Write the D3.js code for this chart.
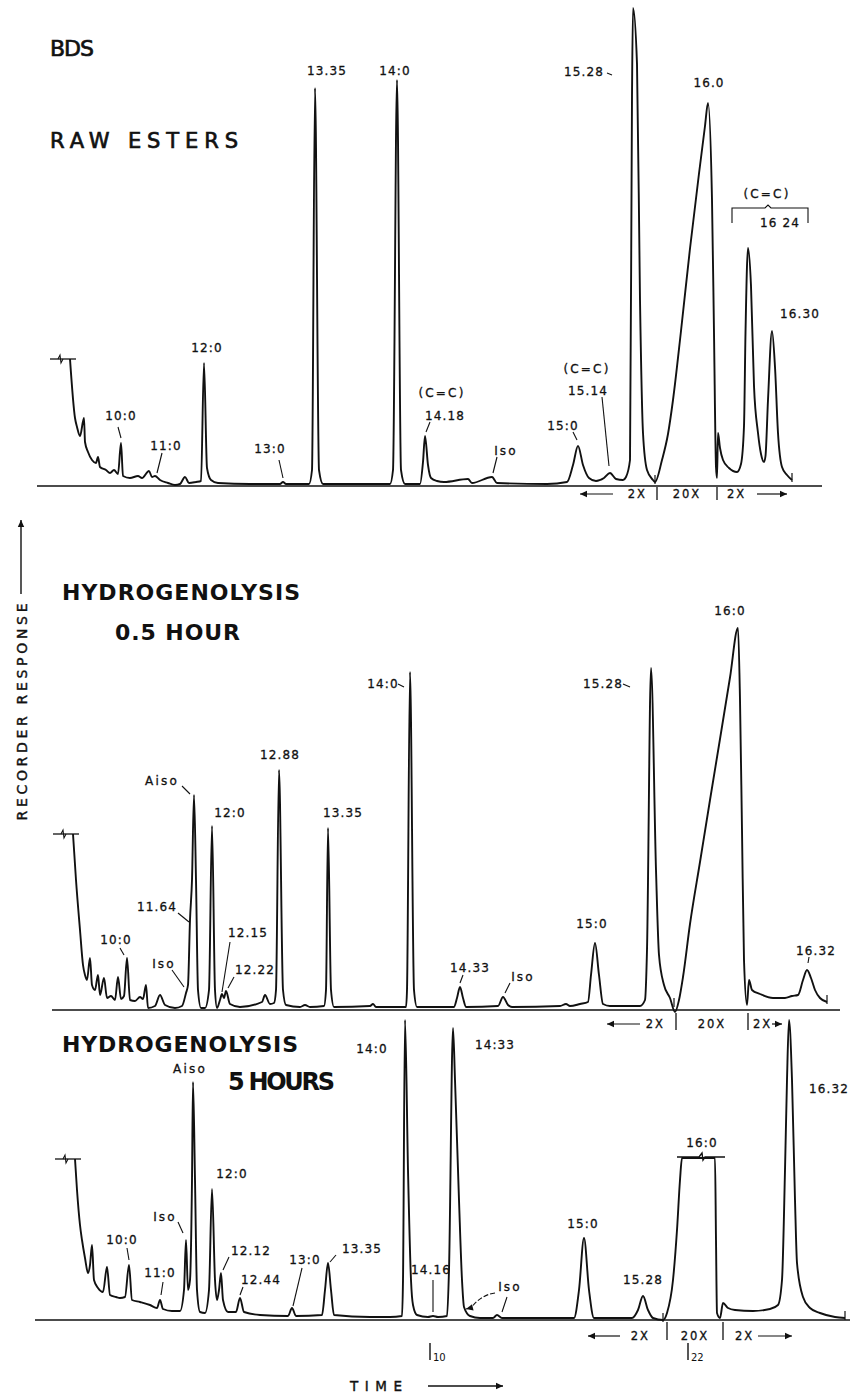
<!DOCTYPE html>
<html><head><meta charset="utf-8">
<script src="https://cdn.jsdelivr.net/npm/d3@7"></script>
<style>
body{margin:0;background:#fff}
svg text{font-family:"DejaVu Sans",sans-serif;fill:#111}
</style>
</head><body>
<svg id="chart" width="856" height="1395"></svg>
<script>
// ---------- DATA (time units, recorder response units) ----------
const rawEsters = [[3.5,25.4],[4.0,13.6],[4.2,11.8],[4.5,10.0],[4.9,13.6],[5.0,8.8],[5.3,6.8],[5.7,5.2],[6.1,4.6],[6.3,5.8],[6.5,3.8],[7.1,3.2],[7.5,2.6],[7.9,3.2],[8.3,2.4],[8.6,8.6],[8.8,2.0],[9.5,1.6],[10.3,2.0],[10.7,1.6],[11.4,3.0],[11.7,1.8],[12.0,2.0],[12.5,1.2],[13.3,0.6],[14.0,0.2],[14.5,0.4],[15.0,1.8],[15.4,0.6],[16.1,0.8],[16.6,1.0],[16.9,24.6],[17.2,3.6],[17.6,1.2],[18.3,0.6],[21.5,0.4],[24.5,0.4],[24.8,0.8],[25.1,0.4],[27.4,0.4],[27.7,3.2],[28.0,79.6],[28.4,3.2],[28.8,0.4],[35.5,0.4],[35.8,3.2],[36.2,81.2],[36.6,3.2],[37.0,0.4],[38.5,0.4],[38.8,4.8],[39.0,10.0],[39.3,4.2],[39.6,1.6],[40.2,1.0],[40.9,0.8],[43.3,1.4],[43.7,0.6],[45.7,1.8],[46.2,0.6],[51.2,0.4],[53.2,0.8],[53.8,4.2],[54.3,8.0],[54.8,4.2],[55.4,1.6],[56.1,1.0],[56.9,1.6],[57.5,2.6],[58.1,1.4],[58.8,1.2],[59.1,1.8],[59.5,5.2],[59.7,78.0],[59.8,95.6],[60.2,84.4],[60.5,37.2],[60.8,10.6],[61.2,3.2],[61.8,1.2],[62.0,0.8],[62.7,5.2],[63.3,10.4],[63.8,17.2],[64.6,31.0],[65.5,47.5],[66.4,62.5],[67.0,72.0],[67.3,76.6],[67.7,57.2],[67.9,30.6],[68.1,3.8],[68.2,1.6],[68.3,10.6],[68.5,7.6],[68.8,5.2],[69.4,3.6],[70.2,2.8],[70.6,4.4],[70.9,12.0],[71.05,30.6],[71.3,47.6],[71.6,40.0],[71.9,20.0],[72.3,10.6],[72.6,6.4],[72.9,4.8],[73.05,6.0],[73.3,17.2],[73.7,31.0],[74.0,23.8],[74.3,10.6],[74.7,3.8],[75.2,2.2],[75.7,1.2]];

const hydro05 = [[3.8,35.2],[4.1,26.0],[4.5,16.0],[4.8,9.0],[5.0,7.0],[5.2,6.0],[5.5,10.4],[5.7,5.0],[6.0,4.0],[6.3,7.0],[6.5,3.0],[6.9,6.4],[7.2,2.4],[7.6,2.8],[8.0,2.0],[8.3,6.6],[8.6,2.2],[8.9,2.8],[9.2,10.4],[9.5,2.0],[10.0,1.8],[10.5,2.6],[10.8,2.2],[11.1,5.0],[11.3,0.4],[12.0,0.8],[12.5,3.0],[13.0,1.0],[14.0,0.4],[14.7,0.8],[15.1,3.4],[15.3,5.0],[15.5,18.0],[15.7,26.0],[15.9,43.0],[16.1,26.0],[16.3,4.0],[16.6,0.4],[17.0,0.4],[17.4,4.0],[17.7,36.8],[18.0,4.0],[18.2,0.4],[18.5,2.0],[18.7,3.2],[18.9,2.4],[19.1,3.8],[19.5,1.2],[20.5,0.6],[22.7,1.6],[23.0,3.0],[23.5,1.2],[23.9,1.4],[24.1,4.0],[24.4,48.0],[24.8,4.0],[25.1,1.0],[26.5,0.6],[27.0,1.0],[27.5,0.6],[28.9,0.8],[29.1,4.0],[29.3,36.4],[29.6,4.0],[29.9,0.6],[33.5,0.8],[33.8,1.2],[34.1,0.6],[37.1,0.6],[37.2,4.0],[37.5,67.6],[37.9,4.0],[38.2,0.6],[41.9,0.6],[42.2,2.4],[42.5,4.6],[42.8,2.4],[43.1,0.6],[46.3,0.8],[46.8,2.6],[47.3,1.0],[47.7,0.6],[52.5,0.8],[53.1,1.2],[53.5,0.8],[54.5,1.2],[55.3,1.6],[55.6,7.0],[56.0,13.4],[56.4,7.0],[56.8,1.2],[57.5,0.8],[60.5,0.8],[61.0,2.0],[61.2,12.0],[61.6,68.4],[62.1,28.0],[62.4,11.0],[62.9,5.0],[63.5,2.4],[64.0,-0.4],[64.4,2.0],[64.8,6.6],[65.5,17.2],[66.5,29.6],[67.5,42.0],[68.5,54.2],[69.5,66.5],[70.3,76.4],[70.5,62.0],[70.7,36.0],[70.9,10.0],[71.2,1.0],[71.4,6.0],[71.7,4.0],[72.5,3.2],[73.8,2.4],[75.0,2.4],[75.7,2.8],[76.3,3.0],[76.8,6.0],[77.2,8.0],[77.6,6.4],[78.0,4.0],[78.5,2.4],[79.2,1.6]];

const hydro5 = [[4.0,32.2],[4.2,26.0],[4.5,19.0],[4.7,16.0],[5.0,12.4],[5.3,9.4],[5.5,11.0],[5.7,15.0],[5.9,8.0],[6.3,6.4],[6.8,5.6],[7.2,10.6],[7.5,5.0],[8.1,4.6],[8.5,4.4],[9.0,4.6],[9.4,11.0],[9.7,4.0],[10.5,3.6],[11.5,3.0],[12.2,2.4],[12.5,4.0],[12.8,2.2],[13.7,1.8],[14.5,1.8],[14.9,6.0],[15.1,16.0],[15.3,6.0],[15.5,8.0],[15.7,28.0],[15.8,47.6],[16.0,28.0],[16.2,6.0],[16.5,1.6],[17.0,1.4],[17.4,6.0],[17.7,26.2],[18.0,8.0],[18.2,4.0],[18.4,6.0],[18.6,9.4],[18.8,4.0],[19.3,1.6],[20.1,1.6],[20.5,4.4],[20.9,1.6],[22.5,1.0],[25.3,0.8],[25.7,2.4],[26.1,0.8],[28.7,1.0],[29.0,6.0],[29.3,11.4],[29.6,6.0],[29.9,1.0],[33.5,0.6],[35.5,0.6],[36.7,0.8],[36.8,8.0],[37.0,60.0],[37.3,30.0],[37.6,8.0],[37.8,3.0],[38.2,1.0],[39.3,0.6],[39.8,0.8],[40.3,0.6],[41.2,0.8],[41.4,10.0],[41.8,58.4],[42.0,48.0],[42.4,24.0],[42.7,8.0],[42.9,2.6],[43.5,0.8],[44.5,0.4],[45.8,0.4],[46.2,1.0],[46.7,0.4],[53.9,0.4],[54.4,6.0],[54.9,16.4],[55.4,6.0],[55.9,0.4],[59.7,0.4],[60.3,2.0],[60.8,4.8],[61.3,2.0],[61.8,0.4],[62.8,0.0],[63.2,1.4],[63.8,8.0],[64.2,18.0],[64.5,28.0],[64.7,32.4],[68.0,32.4],[68.1,16.0],[68.2,1.4],[68.5,0.4],[68.8,3.4],[69.3,2.4],[70.0,2.0],[71.8,1.8],[73.5,2.2],[74.3,3.0],[74.7,8.0],[75.0,30.0],[75.2,48.0],[75.4,60.0],[75.7,48.0],[76.0,24.0],[76.2,11.4],[76.8,4.6],[77.5,2.4],[78.5,1.4],[80.0,0.6],[81.0,0.4]];

// peak labels: [text, t, r, leader [t1,r1,t2,r2]]
const rawLabels = [
  ["10:0",8.6,13.2,[8.3,11.8,8.6,9.6]],
  ["11:0",13.1,7.2,[12.7,6.6,12.2,2.6]],
  ["12:0",17.2,26.8],
  ["13:0",23.5,6.6,[24.4,5.2,24.8,1.6]],
  ["13.35",29.2,82.2],
  ["14:0",36.0,82.2],
  ["(C=C)",40.7,17.8],
  ["14.18",41.0,13.2,[39.5,12.8,39.1,10.8]],
  ["Iso",47.1,6.2,[46.2,5.8,45.8,2.6]],
  ["15:0",52.8,11.2,[53.8,10.8,54.2,9.2]],
  ["(C=C)",55.2,22.6],
  ["15.14",55.3,18.2,[56.7,17.8,57.4,4.0]],
  ["15.28",54.9,82.0,[57.2,82.6,57.7,82.2]],
  ["16.0",67.4,79.8],
  ["(C=C)",73.2,57.6],
  ["16 24",74.5,51.8],
  ["16.30",76.5,33.6]
];
const halfLabels = [
  ["Aiso",12.7,45.0,[14.7,44.8,15.5,43.2]],
  ["12:0",19.5,38.6],
  ["12.88",24.5,50.2],
  ["13.35",30.8,38.6],
  ["11.64",12.2,19.8,[14.3,19.4,15.4,17.6]],
  ["10:0",8.1,13.2,[8.5,12.4,8.9,11.0]],
  ["Iso",12.9,8.4,[13.7,8.0,14.9,4.6]],
  ["12.15",21.3,14.6,[19.5,13.6,18.7,3.6]],
  ["12.22",22.0,7.2,[19.9,6.6,19.3,4.4]],
  ["14:0",34.8,64.4,[36.3,65.2,36.9,64.6]],
  ["14.33",43.5,7.6,[42.8,7.0,42.5,5.4]],
  ["Iso",48.8,5.8,[47.5,5.4,47.0,3.4]],
  ["15:0",55.7,16.4],
  ["15.28",56.8,64.4,[58.8,65.2,59.5,64.6]],
  ["16:0",69.5,79.0],
  ["16.32",78.1,11.0,[77.4,10.6,77.3,9.4]]
];
const fiveLabels = [
  ["Aiso",15.5,49.4],
  ["14:0",33.7,53.4],
  ["14:33",46.0,54.2],
  ["16.32",79.4,45.4],
  ["12:0",19.7,28.4],
  ["Iso",13.0,19.8,[14.3,19.6,14.8,17.4]],
  ["10:0",8.7,15.2,[9.2,14.4,9.4,12.0]],
  ["11:0",12.5,8.6,[12.8,7.6,12.6,5.0]],
  ["12.12",21.6,13.0,[19.4,12.6,18.8,10.0]],
  ["12.44",22.6,7.2,[20.8,6.6,20.5,5.0]],
  ["13:0",27.0,11.2,[26.7,10.4,25.8,2.8]],
  ["13.35",32.7,13.4,[30.1,13.0,29.5,11.6]],
  ["14.16",39.6,9.2,[39.8,8.0,39.8,1.6]],
  ["Iso",47.5,5.8,[47.2,4.6,46.7,1.6]],
  ["15:0",54.8,18.4],
  ["15.28",60.8,7.2],
  ["16:0",66.7,34.6]
];

// attenuation changes (time of switch) and their labels
const rawAtten = [62.2, 68.2];
const halfAtten = [64.1, 71.3];
const fiveAtten = [63.2, 68.8];
const attenText = ["2X", "20X", "2X"];

// recorder pen ticks (time, response)
const rawTicks = [[62.0,0.8],[75.7,1.2]];
const halfTicks = [[63.9,1.0],[79.2,1.6]];
const fiveTicks = [[62.8,0.0],[81.0,0.4]];

// baseline extents (time)
const rawAxis = [0.2, 78.7];
const halfAxis = [1.7, 80.5];
const fiveAxis = [0.0, 81.5];

// time index markers
const indexMarks = [["10", 39.5], ["22", 65.3]];

// ---------- DRAWING ----------
const svg = d3.select("#chart");
const x = d3.scaleLinear().domain([0, 82]).range([35, 855]);

function arrow(g, x1, y1, x2, y2, w) {
  g.append("line").attr("x1", x1).attr("y1", y1).attr("x2", x2).attr("y2", y2)
    .attr("stroke", "#111").attr("stroke-width", w || 1.3);
  const a = Math.atan2(y2 - y1, x2 - x1), L = 7, H = 3.2;
  const p = [[x2, y2],
    [x2 - L * Math.cos(a) + H * Math.sin(a), y2 - L * Math.sin(a) - H * Math.cos(a)],
    [x2 - L * Math.cos(a) - H * Math.sin(a), y2 - L * Math.sin(a) + H * Math.cos(a)]];
  g.append("path").attr("d", "M" + p.join("L") + "Z").attr("fill", "#111");
}

const panels = [
  {trace: rawEsters, labels: rawLabels, atten: rawAtten, ticks: rawTicks, axis: rawAxis, base: 486,
   row: {dy: 12, l0: 1, l1: 14, lt: 10, la: [77, 44], rt: 10, ra: [40, 70]}},
  {trace: hydro05, labels: halfLabels, atten: halfAtten, ticks: halfTicks, axis: halfAxis, base: 1010,
   row: {dy: 18, l0: 3, l1: 20, lt: 11, la: [69, 36], rt: 5, ra: [24, 34]}},
  {trace: hydro5, labels: fiveLabels, atten: fiveAtten, ticks: fiveTicks, axis: fiveAxis, base: 1320,
   row: {dy: 20, l0: 2, l1: 20, lt: 17, la: [79, 47], rt: 12, ra: [35, 69]}}
];

panels.forEach(p => {
  const y = d3.scaleLinear().domain([0, 100]).range([p.base, p.base - 500]);
  const g = svg.append("g");
  // baseline
  g.append("line").attr("x1", x(p.axis[0])).attr("x2", x(p.axis[1]))
    .attr("y1", y(0)).attr("y2", y(0)).attr("stroke", "#111").attr("stroke-width", 1.4);
  // start mark
  const t0 = p.trace[0][0], r0 = p.trace[0][1];
  g.append("line").attr("x1", x(t0 - 2)).attr("x2", x(t0 + 0.6)).attr("y1", y(r0)).attr("y2", y(r0))
    .attr("stroke", "#111").attr("stroke-width", 1.3);
  g.append("path").attr("d", `M${x(t0 - 1.2)},${y(r0)} l2,-4 l1,8 l2,-4`)
    .attr("fill", "none").attr("stroke", "#111").attr("stroke-width", 1.1);
  // trace
  const line = d3.line().x(d => x(d[0])).y(d => y(d[1])).curve(d3.curveMonotoneX);
  g.append("path").datum(p.trace).attr("d", line).attr("fill", "none")
    .attr("stroke", "#111").attr("stroke-width", 1.9).attr("stroke-linejoin", "round");
  // pen ticks
  p.ticks.forEach(d => {
    g.append("line").attr("x1", x(d[0])).attr("x2", x(d[0]))
      .attr("y1", y(d[1]) - 7).attr("y2", y(d[1]) + 2).attr("stroke", "#111").attr("stroke-width", 1.2);
  });
  // labels
  p.labels.forEach(d => {
    const wide = /[A-Za-z(]/.test(d[0]);
    g.append("text").attr("x", x(d[1])).attr("y", y(d[2])).attr("text-anchor", "middle")
      .attr("font-size", 12).attr("letter-spacing", wide ? 2.2 : 1.1)
      .attr("stroke", "#111").attr("stroke-width", 0.3).text(d[0]);
    if (d[3]) {
      const l = d[3];
      g.append("line").attr("x1", x(l[0])).attr("y1", y(l[1])).attr("x2", x(l[2])).attr("y2", y(l[3]))
        .attr("stroke", "#111").attr("stroke-width", 1.1);
    }
  });
  // attenuation row
  const b1 = x(p.atten[0]), b2 = x(p.atten[1]), ty = p.base + p.row.dy, R = p.row;
  [b1, b2].forEach(b => g.append("line").attr("x1", b).attr("x2", b)
    .attr("y1", p.base + R.l0).attr("y2", p.base + R.l1).attr("stroke", "#111").attr("stroke-width", 1.3));
  const at = (tx, anchor, s) => g.append("text").attr("x", tx).attr("y", ty).attr("text-anchor", anchor)
    .attr("font-size", 11.5).attr("letter-spacing", 2).attr("stroke", "#111").attr("stroke-width", 0.3).text(s);
  at(b1 - R.lt, "end", attenText[0]);
  at((b1 + b2) / 2, "middle", attenText[1]);
  at(b2 + R.rt, "start", attenText[2]);
  arrow(g, b1 - R.la[1], ty - 4, b1 - R.la[0], ty - 4, 1.2);
  arrow(g, b2 + R.ra[0], ty - 4, b2 + R.ra[1], ty - 4, 1.2);
  p.y = y; p.g = g;
});

// panel 1 bracket over (C=C) 16:24 / 16:30
{
  const p = panels[0], y = p.y, g = p.g;
  const bx1 = x(69.7), bx2 = x(77.3), by = y(55.6), bd = y(52.6), bm = x(73.3);
  g.append("path").attr("d", `M${bx1},${bd} V${by} H${bm - 3} l3,-3 l3,3 H${bx2} V${bd}`)
    .attr("fill", "none").attr("stroke", "#111").attr("stroke-width", 1.1);
}
// panel 3 off-scale cap on 16:0 and Iso arrow
{
  const p = panels[2], y = p.y, g = p.g;
  const cy = y(32.6);
  g.append("path").attr("d", `M${x(64.2)},${cy} H${x(66.4)} l3,-4 l1,7 l2,-3 H${x(69.0)}`)
    .attr("fill", "none").attr("stroke", "#111").attr("stroke-width", 1.4);
  const sx = x(46.0), sy = y(5.4), ex = x(43.1), ey = y(2.2);
  g.append("path").attr("d", `M${sx},${sy} Q${(sx + ex) / 2},${sy + 2} ${ex + 5},${ey - 1}`)
    .attr("fill", "none").attr("stroke", "#111").attr("stroke-width", 1.1).attr("stroke-dasharray", "5,2");
  arrow(g, ex + 6, ey - 1.5, ex, ey, 1.1);
}

// titles
const titles = [
  ["BDS", 50, 56, 22, "normal", 44, 0.7],
  ["RAW ESTERS", 50, 148, 21, "normal", 188, 0.7],
  ["HYDROGENOLYSIS", 62, 600, 22, "bold", 238, 0],
  ["0.5 HOUR", 115, 640, 22, "bold", 125, 0],
  ["HYDROGENOLYSIS", 62, 1052, 22, "bold", 236, 0],
  ["5 HOURS", 228, 1090, 24, "bold", 107, 0]
];
titles.forEach(t => svg.append("text").attr("x", t[1]).attr("y", t[2]).attr("font-size", t[3])
  .attr("font-weight", t[4]).attr("textLength", t[5]).attr("lengthAdjust", "spacing")
  .attr("stroke", "#111").attr("stroke-width", t[6]).text(t[0]));

// index markers below bottom trace
indexMarks.forEach(m => {
  const mx = x(m[1]);
  svg.append("line").attr("x1", mx).attr("x2", mx).attr("y1", 1343).attr("y2", 1360)
    .attr("stroke", "#111").attr("stroke-width", 1.4);
  svg.append("text").attr("x", mx + 3).attr("y", 1361).attr("font-size", 10).text(m[0]);
});

// axis titles
svg.append("text").attr("transform", "translate(27,712) rotate(-90)").attr("text-anchor", "middle")
  .attr("font-size", 14).attr("textLength", 217).attr("lengthAdjust", "spacing")
  .attr("stroke", "#111").attr("stroke-width", 0.4).text("RECORDER RESPONSE");
arrow(svg, 21, 594, 21, 520, 1.4);
svg.append("text").attr("x", 350).attr("y", 1391).attr("font-size", 13.5)
  .attr("textLength", 52).attr("lengthAdjust", "spacing")
  .attr("stroke", "#111").attr("stroke-width", 0.4).text("TIME");
arrow(svg, 428, 1386, 503, 1386, 1.4);
</script>
</body></html>
